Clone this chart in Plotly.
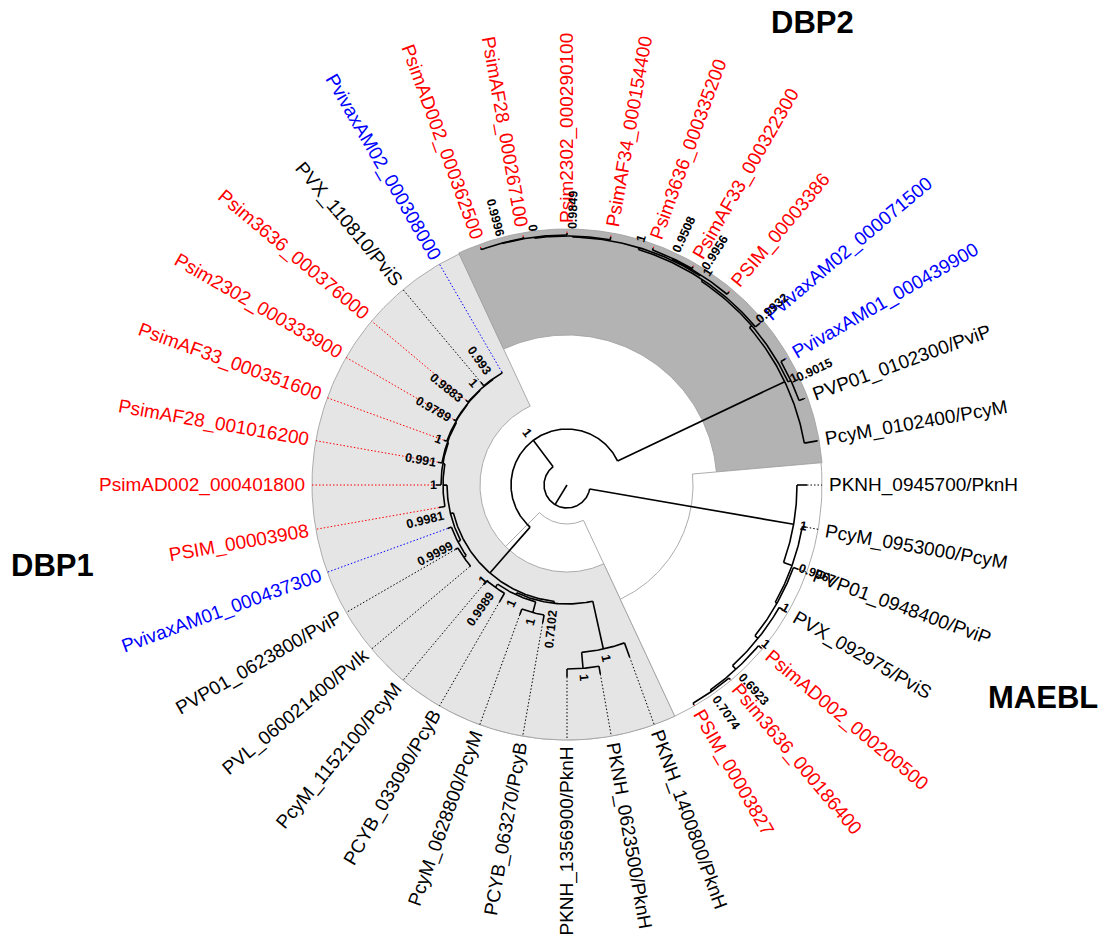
import math
import plotly.graph_objects as go

# ---------------- data ----------------
leaf_names = [
    "PcyM_0102400/PcyM", "PVP01_0102300/PviP", "PvivaxAM01_000439900", "PvivaxAM02_000071500",
    "PSIM_00003386", "PsimAF33_000322300", "Psim3636_000335200", "PsimAF34_000154400",
    "Psim2302_000290100", "PsimAF28_000267100", "PsimAD002_000362500",
    "PvivaxAM02_000308000", "PVX_110810/PviS", "Psim3636_000376000", "Psim2302_000333900",
    "PsimAF33_000351600", "PsimAF28_001016200", "PsimAD002_000401800", "PSIM_00003908",
    "PvivaxAM01_000437300", "PVP01_0623800/PviP", "PVL_060021400/PvIk", "PcyM_1152100/PcyM",
    "PCYB_033090/PcyB", "PcyM_0628800/PcyM", "PCYB_063270/PcyB", "PKNH_1356900/PknH",
    "PKNH_0623500/PknH", "PKNH_1400800/PknH",
    "PSIM_00003827", "Psim3636_000186400", "PsimAD002_000200500", "PVX_092975/PviS",
    "PVP01_0948400/PviP", "PcyM_0953000/PcyM", "PKNH_0945700/PknH",
]
leaf_group = [
    "ref", "ref", "am", "am",
    "sim", "sim", "sim", "sim", "sim", "sim", "sim",
    "am", "ref", "sim", "sim", "sim", "sim", "sim", "sim",
    "am", "ref", "ref", "ref", "ref", "ref", "ref", "ref", "ref", "ref",
    "sim", "sim", "sim", "ref", "ref", "ref", "ref",
]
leaf_parent = [
    "N2", "N4", "N4", "N5", "N7", "N8", "N8", "N9", "N10", "N11", "N11",
    "Q1", "Q1", "Q2", "Q3", "Q4", "Q5", "Q6", "Q7",
    "Dw", "Dv", "Dv", "DC", "DC", "DD", "DD", "DK2", "DK2", "DK",
    "M5", "M5", "M4", "M3", "M2", "M1", "MAEBL",
]
leaf_depth = [
    254, 252, 252, 252, 252, 252, 252, 252, 252, 252, 252,
    130.5, 134, 132, 131, 131, 131, 131, 130,
    127, 129, 127, 130, 135, 138, 140, 192, 192, 183,
    254, 254, 254, 249, 246, 243, 240,
]

node_names = ["root", "MAEBL", "M1", "M2", "M3", "M4", "M5",
              "N1", "N2", "N3", "N4", "N5", "N6", "N7", "N8", "N9", "N10", "N11",
              "D0", "Dleft", "Dw", "Dv", "Q7", "Q6", "Q5", "Q4", "Q3", "Q2", "Q1",
              "DX", "DE", "DC", "DD", "DK", "DK2"]
node_parent = [None, "root", "MAEBL", "M1", "M2", "M3", "M4",
               "root", "N1", "N2", "N3", "N3", "N5", "N6", "N7", "N6", "N9", "N10",
               "N1", "D0", "Dleft", "Dw", "Dleft", "Q7", "Q6", "Q5", "Q4", "Q3", "Q2",
               "D0", "DX", "DE", "DE", "DX", "DK"]
node_depth = [23, 230, 239, 241, 245, 250, 252,
              56, 241, 244, 247, 246, 248, 249, 250, 249, 250, 250.5,
              117, 120, 123, 126, 124, 126, 127, 128, 128.5, 129, 129.5,
              119, 121, 125, 132, 168, 184]
node_support = ["", "1", "0.9967", "1", "1", "0.6923", "0.7074",
                "1", "1", "0.9932", "0.9015", "1", "1", "0.9956", "0.9508", "0.9849", "0", "0.9996",
                "1", "0.9981", "0.9999", "", "1", "0.991", "1", "0.9789", "0.9883", "1", "0.993",
                "0.7102", "1", "0.9989", "1", "1", "1"]

clade_names = ["DBP1 core", "DBP1", "DBP2", "MAEBL"]
clade_theta_start = [225, 115, 5, 295]
clade_theta_end = [295, 295, 115, 365]
clade_inner = [39, 87, 150, 126]
clade_outer = [255, 255, 256, 255]
clade_fill = ["#ffffff", "#e5e5e5", "#b3b3b3", "#ffffff"]

title_text = ["DBP2", "DBP1", "MAEBL"]
title_xy = [(245, 463), (-515, -80), (476, -212)]

group_color = {"sim": "#ff0000", "am": "#0000ff", "ref": "#000000"}

# ---------------- geometry helpers ----------------
N_LEAF = len(leaf_names)
ALIGN_R = 255
LABEL_R = 262
LABEL_SIZE = 19
SUP_SIZE = 12.5
FONT = "Liberation Sans, Arial, Helvetica"

AW = {c: 556 for c in "0123456789_"}
AW.update({"/": 278, ".": 278})
AW.update(dict(zip("ABCDEFGHIJKLMNOPQRSTUVWXYZ",
                   [667, 667, 722, 722, 667, 611, 778, 722, 278, 500, 667, 556, 833,
                    722, 778, 667, 778, 722, 667, 611, 722, 667, 944, 667, 667, 611])))
AW.update(dict(zip("abcdefghijklmnopqrstuvwxyz",
                   [556, 556, 500, 556, 556, 278, 556, 556, 222, 222, 500, 222, 833,
                    556, 556, 556, 556, 333, 500, 278, 556, 500, 722, 500, 500, 500])))


def text_w(s, size):
    return sum(AW.get(ch, 556) for ch in s) * size / 1000.0


def pol(r, deg):
    a = math.radians(deg)
    return r * math.cos(a), r * math.sin(a)


def arc(r, a0, a1, step=1.0):
    n = max(2, int(abs(a1 - a0) / step) + 2)
    return [pol(r, a0 + (a1 - a0) * k / (n - 1)) for k in range(n)]


def text_angle(deg):
    d = deg % 360
    if 90 < d <= 270:
        ta = -(d + 180)
    else:
        ta = -d
    while ta <= -180:
        ta += 360
    while ta > 180:
        ta -= 360
    return ta


# ---------------- tree layout ----------------
depth = {}
parent = {}
children = {}
for i, nm in enumerate(node_names):
    depth[nm] = node_depth[i]
    parent[nm] = node_parent[i]
    children.setdefault(nm, [])
for i, nm in enumerate(leaf_names):
    depth[nm] = leaf_depth[i]
    parent[nm] = leaf_parent[i]
for nm, p in parent.items():
    if p is not None:
        children.setdefault(p, []).append(nm)

angle = {}
for i, nm in enumerate(leaf_names):
    angle[nm] = (i + 1) * 360.0 / N_LEAF


def node_angle(nm):
    if nm in angle:
        return angle[nm]
    a = sum(node_angle(c) for c in children[nm]) / len(children[nm])
    angle[nm] = a
    return a


node_angle("root")

fig = go.Figure()

# clade highlights
for k in range(len(clade_names)):
    pts = arc(clade_outer[k], clade_theta_start[k], clade_theta_end[k]) + \
        arc(clade_inner[k], clade_theta_end[k], clade_theta_start[k])
    pts.append(pts[0])
    fig.add_trace(go.Scatter(x=[p[0] for p in pts], y=[p[1] for p in pts], mode="lines",
                             fill="toself", fillcolor=clade_fill[k],
                             line=dict(color="#a3a3a3", width=0.9),
                             hoverinfo="skip", name=clade_names[k]))

# dotted alignment lines
for grp in ["ref", "sim", "am"]:
    xs, ys = [], []
    for i, nm in enumerate(leaf_names):
        if leaf_group[i] != grp:
            continue
        x0, y0 = pol(depth[nm], angle[nm])
        x1, y1 = pol(ALIGN_R, angle[nm])
        xs += [x0, x1, None]
        ys += [y0, y1, None]
    fig.add_trace(go.Scatter(x=xs, y=ys, mode="lines",
                             line=dict(color=group_color[grp], width=1, dash="1.5px,2px"),
                             hoverinfo="skip"))

# tree branches
xs, ys = [], []
for nm, p in parent.items():
    r1 = depth[nm]
    r0 = depth[p] if p is not None else 0.0
    x0, y0 = pol(r0, angle[nm])
    x1, y1 = pol(r1, angle[nm])
    xs += [x0, x1, None]
    ys += [y0, y1, None]
for nm in node_names:
    ch = children[nm]
    a_min = min(angle[c] for c in ch)
    a_max = max(angle[c] for c in ch)
    pts = arc(depth[nm], a_min, a_max, 0.5)
    xs += [p[0] for p in pts] + [None]
    ys += [p[1] for p in pts] + [None]
fig.add_trace(go.Scatter(x=xs, y=ys, mode="lines",
                         line=dict(color="black", width=1.6), hoverinfo="skip"))

annotations = []
# tip labels
for i, nm in enumerate(leaf_names):
    a = angle[nm]
    w = text_w(nm, LABEL_SIZE)
    cx, cy = pol(LABEL_R + w / 2.0, a)
    annotations.append(dict(x=cx, y=cy, text=nm, showarrow=False, xanchor="center",
                            yanchor="middle", textangle=text_angle(a),
                            font=dict(family=FONT, size=LABEL_SIZE,
                                      color=group_color[leaf_group[i]])))

# support labels
for i, nm in enumerate(node_names):
    s = node_support[i]
    if not s:
        continue
    a = angle[nm]
    w = text_w(s, SUP_SIZE) * 1.05
    cx, cy = pol(depth[nm] + 6 + w / 2.0, a)
    annotations.append(dict(x=cx, y=cy, text="<b>" + s + "</b>", showarrow=False,
                            xanchor="center", yanchor="middle", textangle=text_angle(a),
                            font=dict(family=FONT, size=SUP_SIZE, color="black")))

# clade titles
for t, (tx, ty) in zip(title_text, title_xy):
    annotations.append(dict(x=tx, y=ty, text="<b>" + t + "</b>", showarrow=False,
                            xanchor="center", yanchor="middle",
                            font=dict(family=FONT, size=31, color="black")))

fig.update_layout(
    width=1105, height=937,
    margin=dict(l=0, r=0, t=0, b=0),
    paper_bgcolor="white", plot_bgcolor="white",
    showlegend=False,
    xaxis=dict(range=[-567, 538], visible=False, fixedrange=True),
    yaxis=dict(range=[-452, 485], visible=False, fixedrange=True),
    annotations=annotations,
)

fig.write_html("out.html", config={"displayModeBar": False},
               post_script="document.body.style.margin='0px';document.body.style.padding='0px';"
                           "document.body.style.overflow='hidden';")
